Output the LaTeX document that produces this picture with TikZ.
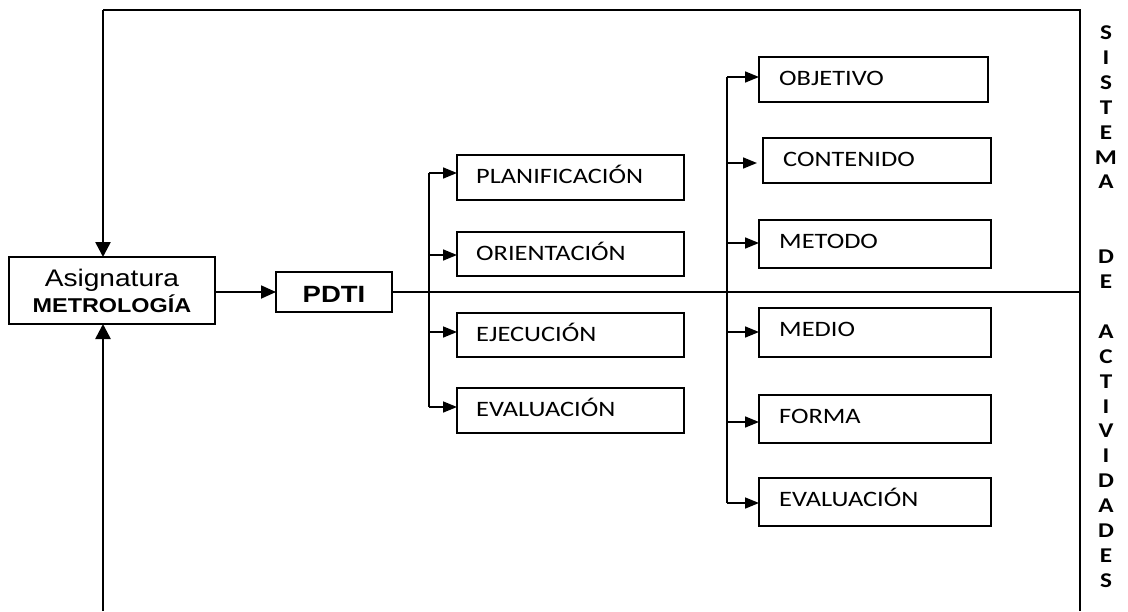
\documentclass[tikz,border=0pt]{standalone}
\usepackage{fontspec}
\usetikzlibrary{arrows.meta}
\newfontfamily\arialf{Liberation Sans}[FakeStretch=1.17]
\newfontfamily\calf{Carlito}[FakeStretch=1.2]
\newcommand\tbox[7]{% name, left, top, right, bottom, text xshift, text
  \node[boxs, minimum width={#4-#2}, minimum height={#5-#3}, anchor=north west] (#1) at (#2,#3) {};
  \node[lbl, anchor=base west] (#1t) at ([xshift=#6pt,yshift=-28pt]#1.north west) {#7};}
\begin{document}
\begin{tikzpicture}[x=1pt,y=-1pt,
  boxs/.style={draw, line width=1.8pt, inner sep=0pt, outer sep=0pt},
  lbl/.style={inner sep=0pt, font=\calf\fontsize{22}{26}\selectfont},
  vlet/.style={inner sep=0pt, anchor=base, font=\calf\bfseries\fontsize{21}{24}\selectfont},
  frame/.style={line width=1.8pt},
  bigarrow/.style={line width=2.6pt, -{Triangle[length=15pt,width=15pt]}},
  midarrow/.style={line width=1.8pt, -{Triangle[length=15pt,width=13pt]}},
  brarrow/.style={line width=1.6pt, -{Triangle[length=14pt,width=11pt]}},
  trunk/.style={line width=1.6pt}]
\useasboundingbox (0,0) rectangle (1128,611);
% main boxes
\node[boxs, minimum width=206pt, minimum height=67pt, anchor=north west] (asig) at (9,257) {};
\node[inner sep=0pt, anchor=base, font=\arialf\fontsize{24}{28}\selectfont] (asigt1) at ([yshift=-29pt]asig.north) {Asignatura};
\node[inner sep=0pt, anchor=base, font=\arialf\bfseries\fontsize{20}{24}\selectfont] (asigt2) at ([yshift=-55pt]asig.north) {METROLOGÍA};
\node[boxs, minimum width=116pt, minimum height=40pt, anchor=north west] (pdti) at (276,272) {};
\node[inner sep=0pt, anchor=base, font=\arialf\bfseries\fontsize{23.5}{28}\selectfont] (pdtit) at ([yshift=-30pt]pdti.north) {PDTI};
% left column
\tbox{plan}{457}{155}{684}{200}{19}{PLANIFICACIÓN}
\tbox{orie}{457}{232}{684}{276}{19}{ORIENTACIÓN}
\tbox{ejec}{457}{313}{684}{357}{19}{EJECUCIÓN}
\tbox{eval}{457}{388}{684}{433}{19}{EVALUACIÓN}
% right column
\tbox{obje}{759}{57}{988}{102}{20}{OBJETIVO}
\tbox{cont}{763}{138}{991}{183}{20}{CONTENIDO}
\tbox{meto}{759}{220}{991}{268}{20}{METODO}
\tbox{medi}{759}{308}{991}{357}{20}{MEDIO}
\tbox{form}{759}{395}{991}{443}{20}{FORMA}
\tbox{evab}{759}{478}{991}{526}{20}{EVALUACIÓN}
% frame
\coordinate (tr) at (1080,10);
\coordinate (br) at (1080,611);
\coordinate (fa) at (103,10);
\coordinate (fb) at (103,611);
\draw[frame] (br) -- (tr) -- (fa);
\draw[bigarrow] (fa) -- (fa |- asig.north);
\draw[bigarrow] (fb) -- (fb |- asig.south);
\draw[midarrow] (asig.east |- pdti.west) -- (pdti.west);
\draw[line width=1.4pt] (pdti.east) -- (pdti.east -| br);
% left trunk
\coordinate (l1) at (429,173);
\coordinate (l2) at (429,255);
\coordinate (l3) at (429,332);
\coordinate (l4) at (429,407);
\draw[trunk] (l1) -- (l4);
\draw[brarrow] (l1) -- (l1 -| plan.west);
\draw[brarrow] (l2) -- (l2 -| orie.west);
\draw[brarrow] (l3) -- (l3 -| ejec.west);
\draw[brarrow] (l4) -- (l4 -| eval.west);
% right trunk
\coordinate (r1) at (727,77);
\coordinate (r2) at (727,163);
\coordinate (r3) at (727,243);
\coordinate (r4) at (727,332);
\coordinate (r5) at (727,422);
\coordinate (r6) at (727,503);
\draw[trunk] (r1) -- (r6);
\draw[brarrow] (r1) -- (r1 -| obje.west);
\draw[brarrow] (r2) -- ([xshift=-6pt]r2 -| cont.west);
\draw[brarrow] (r3) -- (r3 -| meto.west);
\draw[brarrow] (r4) -- (r4 -| medi.west);
\draw[brarrow] (r5) -- (r5 -| form.west);
\draw[brarrow] (r6) -- (r6 -| evab.west);
% vertical text
\foreach \l/\k in {S/0,I/1,S/2,T/3,E/4,M/5,A/6,D/9,E/10,A/12,C/13,T/14,I/15,V/16,I/17,D/18,A/19,D/20,E/21,S/22}
  \node[vlet] (v\k) at (1106,39.5+\k*24.9) {\l};
\end{tikzpicture}
\end{document}
